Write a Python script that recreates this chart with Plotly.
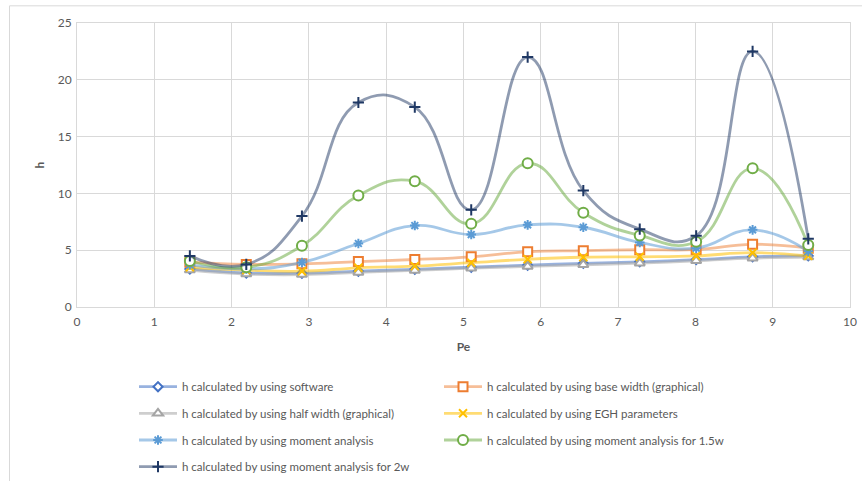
import plotly.graph_objects as go

# ---- data ----
pe = [1.46, 2.19, 2.91, 3.64, 4.37, 5.10, 5.83, 6.55, 7.28, 8.01, 8.74, 9.46]

h_software = [3.35, 3.0, 2.97, 3.15, 3.32, 3.5, 3.68, 3.84, 3.98, 4.17, 4.42, 4.5]
h_base_width = [3.95, 3.75, 3.8, 4.0, 4.18, 4.42, 4.86, 4.96, 5.04, 5.05, 5.52, 5.18]
h_half_width = [3.25, 2.9, 2.85, 3.04, 3.22, 3.42, 3.57, 3.72, 3.86, 4.07, 4.3, 4.4]
h_egh = [3.5, 3.25, 3.15, 3.45, 3.6, 3.9, 4.2, 4.38, 4.42, 4.5, 4.78, 4.5]
h_moment = [3.7, 3.35, 3.92, 5.59, 7.17, 6.38, 7.23, 7.02, 5.68, 5.18, 6.79, 4.9]
h_moment_15w = [4.05, 3.5, 5.39, 9.81, 11.07, 7.32, 12.65, 8.3, 6.3, 5.75, 12.21, 5.45]
h_moment_2w = [4.5, 3.75, 8.0, 18.0, 17.6, 8.55, 22.0, 10.25, 6.85, 6.27, 22.5, 6.0]

names = [
    "h calculated by using software",
    "h calculated by using base width (graphical)",
    "h calculated by using half width (graphical)",
    "h calculated by using EGH parameters",
    "h calculated by using moment analysis",
    "h calculated by using moment analysis for 1.5w",
    "h calculated by using moment analysis for 2w",
]
series = [h_software, h_base_width, h_half_width, h_egh, h_moment, h_moment_15w, h_moment_2w]

line_colors = ["rgba(68,114,196,0.55)", "rgba(237,125,49,0.5)", "rgba(165,165,165,0.55)",
               "rgba(255,192,0,0.55)", "rgba(91,155,213,0.55)", "rgba(112,173,71,0.55)",
               "rgba(31,56,100,0.5)"]
marker_colors = ["#4472C4", "#ED7D31", "#A5A5A5", "#FFC000", "#5B9BD5", "#70AD47", "#1F3864"]
symbols = ["diamond", "square", "triangle-up", "x-thin", "asterisk", "circle", "cross-thin"]
sizes = [7, 9, 9, 8, 8, 10, 8]
legends = ["legend", "legend", "legend2", "legend2", "legend3", "legend3", "legend4"]

fig = go.Figure()
for i, (nm, ys) in enumerate(zip(names, series)):
    open_fill = symbols[i] in ("diamond", "square", "triangle-up", "circle")
    fig.add_trace(go.Scatter(
        x=pe, y=ys, name=nm, mode="lines+markers",
        line=dict(color=line_colors[i], width=2.8, shape="spline", smoothing=1.3),
        marker=dict(symbol=symbols[i], size=sizes[i],
                    color="white" if open_fill else marker_colors[i],
                    line=dict(color=marker_colors[i], width=2)),
        legend=legends[i],
    ))

font_fam = "Lato, 'Open Sans', sans-serif"
grid = "#d9d9d9"
leg_common = dict(orientation="h", xref="container", yref="container",
                  x=134 / 862, xanchor="left", yanchor="middle",
                  entrywidth=252, itemwidth=38,
                  font=dict(family=font_fam, size=11.5, color="#595959"),
                  bgcolor="rgba(0,0,0,0)", traceorder="normal")

fig.update_layout(
    width=862, height=481,
    margin=dict(l=77, r=12, t=23, b=174),
    paper_bgcolor="white", plot_bgcolor="white",
    font=dict(family=font_fam, color="#595959", size=12),
    xaxis=dict(range=[0, 10], dtick=1, showgrid=True, gridcolor=grid, gridwidth=1,
               zeroline=False, showline=True, mirror=True, linecolor=grid, linewidth=1,
               ticks="", ticklabelstandoff=4, automargin=False,
               tickfont=dict(size=12, color="#595959"),
               title=dict(text="<b>Pe</b>", standoff=14, font=dict(size=12, color="#595959"))),
    yaxis=dict(range=[0, 25], dtick=5, showgrid=True, gridcolor=grid, gridwidth=1,
               zeroline=False, showline=True, mirror=True, linecolor=grid, linewidth=1,
               ticks="", ticklabelstandoff=2, automargin=False,
               tickfont=dict(size=12, color="#595959"),
               title=dict(text="<b>h</b>", standoff=10, font=dict(size=12, color="#595959"))),
    legend=dict(y=1 - 386.7 / 481, **leg_common),
    legend2=dict(y=1 - 413.3 / 481, **leg_common),
    legend3=dict(y=1 - 440.0 / 481, **leg_common),
    legend4=dict(y=1 - 466.7 / 481, **leg_common),
    shapes=[dict(type="rect", xref="paper", yref="paper",
                 x0=(9.5 - 77) / 773, x1=(900 - 77) / 773,
                 y0=(307.3 - 520) / 284.6, y1=(307.3 - 5.5) / 284.6,
                 line=dict(color="#d9d9d9", width=1), fillcolor="rgba(0,0,0,0)", layer="below")],
)

fig.write_html("out.html")
